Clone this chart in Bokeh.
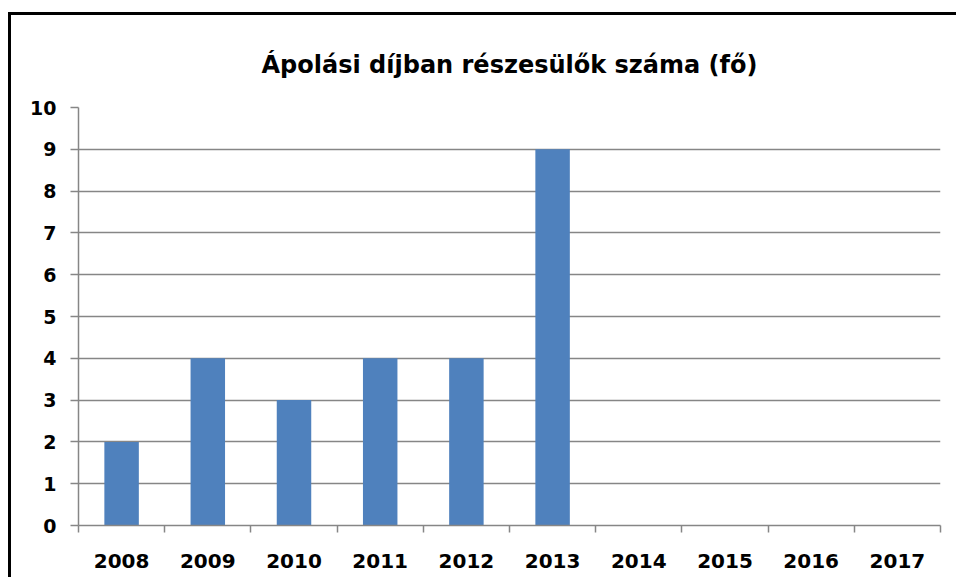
from bokeh.plotting import figure
from bokeh.layouts import column
from bokeh.models import FixedTicker, ColumnDataSource, Range1d
from bokeh.embed import file_html
from bokeh.resources import INLINE

years = ["2008", "2009", "2010", "2011", "2012", "2013", "2014", "2015", "2016", "2017"]
values = [2, 4, 3, 4, 4, 9, None, None, None, None]
y_ticks = [0, 1, 2, 3, 4, 5, 6, 7, 8, 9, 10]
title_text = "Ápolási díjban részesülők száma (fő)"

xs = [i + 0.5 for i, v in enumerate(values) if v is not None]
tops = [v for v in values if v is not None]
src = ColumnDataSource(dict(x=xs, top=tops))

FONT = "DejaVu Sans"
GRID = "#868686"

p = figure(width=945, height=562, output_backend="svg", toolbar_location=None,
           x_range=Range1d(0, len(years)), y_range=Range1d(0, 10),
           min_border_left=67, min_border_right=16, min_border_top=92, min_border_bottom=52)

p.title.text = title_text
p.title.align = "center"
p.title.text_font = FONT
p.title.text_font_size = "24px"
p.title.text_font_style = "bold"
p.title.text_color = "black"
p.title.offset = 0
p.title.standoff = 57

p.vbar(x="x", top="top", width=0.4, bottom=0, source=src, fill_color="#4F81BD", line_color=None)

p.outline_line_color = None
p.background_fill_color = "white"
p.border_fill_color = "white"

# x axis: labels at category centres, ticks at boundaries
p.xaxis.ticker = FixedTicker(ticks=[i + 0.5 for i in range(len(years))],
                             minor_ticks=list(range(len(years) + 1)))
p.xaxis.major_label_overrides = {i + 0.5: y for i, y in enumerate(years)}
p.xaxis.major_tick_line_color = None
p.xaxis.minor_tick_line_color = GRID
p.xaxis.minor_tick_out = 7
p.xaxis.minor_tick_in = 0
p.xaxis.axis_line_color = GRID
p.xaxis.minor_tick_line_width = 1.5
p.xaxis.axis_line_width = 1.5
p.xaxis.major_label_standoff = 21
p.xaxis.major_label_text_font = FONT
p.xaxis.major_label_text_font_size = "20px"
p.xaxis.major_label_text_font_style = "bold"
p.xaxis.major_label_text_color = "black"
p.xgrid.grid_line_color = None

p.yaxis.ticker = FixedTicker(ticks=y_ticks)
p.yaxis.major_tick_out = 8
p.yaxis.major_tick_in = 0
p.yaxis.minor_tick_line_color = None
p.yaxis.major_tick_line_color = GRID
p.yaxis.axis_line_color = GRID
p.yaxis.axis_line_width = 1.5
p.yaxis.major_tick_line_width = 1.5
p.yaxis.major_label_standoff = 14
p.yaxis.major_label_text_font = FONT
p.yaxis.major_label_text_font_size = "19px"
p.yaxis.major_label_text_font_style = "bold"
p.yaxis.major_label_text_color = "black"
p.ygrid.grid_line_color = GRID
p.ygrid.grid_line_width = 1.5

root = column(p, styles={"border-top": "3px solid black", "border-left": "3px solid black",
                         "margin-top": "12px", "margin-left": "8px", "overflow": "hidden"})

open("out.html", "w").write(file_html(root, INLINE))
